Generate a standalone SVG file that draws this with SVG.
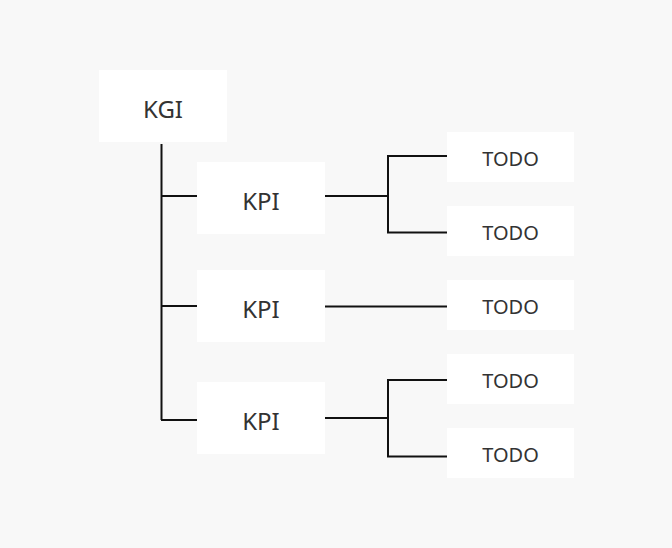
<svg xmlns="http://www.w3.org/2000/svg" width="672" height="548" viewBox="0 0 672 548">
<style>
.box{fill:#ffffff}
.t1{font-family:"Noto Sans",sans-serif;font-size:24px;fill:#333333;text-anchor:middle}
.t2{font-family:"Noto Sans",sans-serif;font-size:20px;fill:#333333;text-anchor:middle}
.c{fill:none;stroke:#111111;stroke-width:2}
</style>
<rect x="0" y="0" width="672" height="548" fill="#f8f8f8"/>
<g id="connectors">
<path class="c" d="M161.5 144 V420 M161 196 H197 M161 306 H197 M161 420 H197"/>
<path class="c" d="M325 196 H388 M388 155 V233 M387 156 H447 M387 232.5 H447"/>
<path class="c" d="M325 306.5 H447"/>
<path class="c" d="M325 418 H388 M388 379 V457 M387 380 H447 M387 456.5 H447"/>
</g>
<g id="kgi"><rect class="box" x="99" y="70" width="128" height="72"/><text class="t1" x="163" y="117.5">KGI</text></g>
<g id="kpi1"><rect class="box" x="197" y="162" width="128" height="72"/><text class="t1" x="261" y="209.5">KPI</text></g>
<g id="kpi2"><rect class="box" x="197" y="270" width="128" height="72"/><text class="t1" x="261" y="317.5">KPI</text></g>
<g id="kpi3"><rect class="box" x="197" y="382" width="128" height="72"/><text class="t1" x="261" y="429.5">KPI</text></g>
<g id="todo1"><rect class="box" x="447" y="132" width="127" height="50"/><text class="t2" x="510.5" y="165.5">TODO</text></g>
<g id="todo2"><rect class="box" x="447" y="206" width="127" height="50"/><text class="t2" x="510.5" y="239.5">TODO</text></g>
<g id="todo3"><rect class="box" x="447" y="280" width="127" height="50"/><text class="t2" x="510.5" y="313.5">TODO</text></g>
<g id="todo4"><rect class="box" x="447" y="354" width="127" height="50"/><text class="t2" x="510.5" y="387.5">TODO</text></g>
<g id="todo5"><rect class="box" x="447" y="428" width="127" height="50"/><text class="t2" x="510.5" y="461.5">TODO</text></g>
</svg>
